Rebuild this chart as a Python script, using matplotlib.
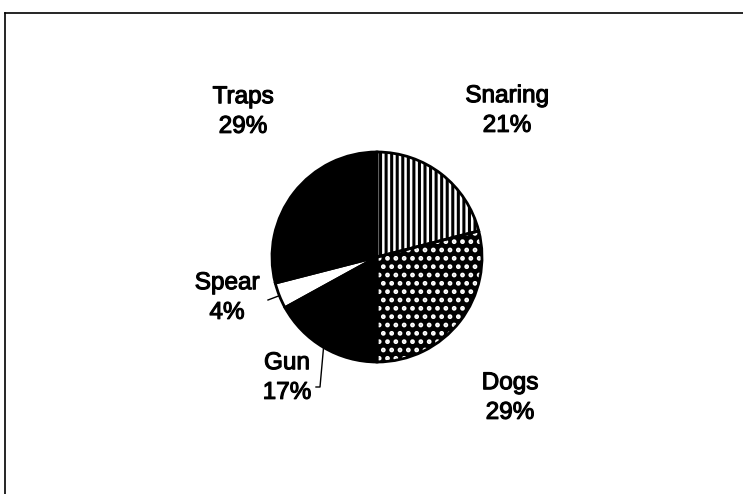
import matplotlib.pyplot as plt
import matplotlib.patheffects as pe
import numpy as np

# Hunting methods, share of catch (%)
methods = ["Snaring", "Dogs", "Gun", "Spear", "Traps"]
shares = [21, 29, 17, 4, 29]
fills = ["white", "black", "black", "white", "black"]
hatches = ["|||", "..", None, None, None]
hatch_cols = ["black", "white", "black", "black", "black"]

plt.rcParams['font.family'] = ['Liberation Sans', 'DejaVu Sans']
plt.rcParams['hatch.linewidth'] = 2.2

W, H = 743, 494
fig = plt.figure(figsize=(W / 100, H / 100), dpi=100)
ax = fig.add_axes([0, 0, 1, 1])


def px(x, y):
    # pixel position (origin top-left) -> data coords
    return x, H - y


cx, cy = px(377, 257)
r = 105

wedges, _ = ax.pie(shares, startangle=90, counterclock=False,
                   center=(cx, cy), radius=r, colors=fills,
                   wedgeprops=dict(linewidth=0), frame=True)
for w, h, hc in zip(wedges, hatches, hatch_cols):
    if h:
        w.set_hatch(h)
        w.set_edgecolor(hc)
        w.set_linewidth(0)

# outlines on top of the fills
ax.pie(shares, startangle=90, counterclock=False, center=(cx, cy), radius=r,
       wedgeprops=dict(fill=False, edgecolor='black', linewidth=2), frame=True)
ax.set_xlim(0, W)
ax.set_ylim(0, H)
ax.set_aspect('equal')
ax.axis('off')

# label text positions (pixels) and leader line ends
label_pos = {"Snaring": (507, 111), "Dogs": (510, 398), "Gun": (287, 378),
             "Spear": (227, 298), "Traps": (243, 112)}
leader_end = {"Gun": (320, 387), "Spear": (268, 300)}

ink = [pe.withStroke(linewidth=0.8, foreground='black')]
for w, name, val in zip(wedges, methods, shares):
    x, y = px(*label_pos[name])
    ax.text(x, y, f"{name}\n{val}%", ha='center', va='center', fontsize=17.5,
            linespacing=1.45, color='black', path_effects=ink)
    if name in leader_end:
        mid = np.deg2rad((w.theta1 + w.theta2) / 2)
        ex, ey = cx + r * np.cos(mid), cy + r * np.sin(mid)
        lx, ly = px(*leader_end[name])
        if name == "Gun":
            ax.plot([lx - 4, lx, ex], [ly, ly, ey], color='black', lw=1)
        else:
            ax.plot([lx, ex], [ly, ey], color='black', lw=1)

# chart border (top and left edges)
fig.add_artist(plt.Line2D([5 / W, 1], [1 - 13 / H, 1 - 13 / H], color='black', lw=1.2))
fig.add_artist(plt.Line2D([5 / W, 5 / W], [0, 1 - 13 / H], color='black', lw=1.2))

fig.savefig("out.png", dpi=100, facecolor='white')
